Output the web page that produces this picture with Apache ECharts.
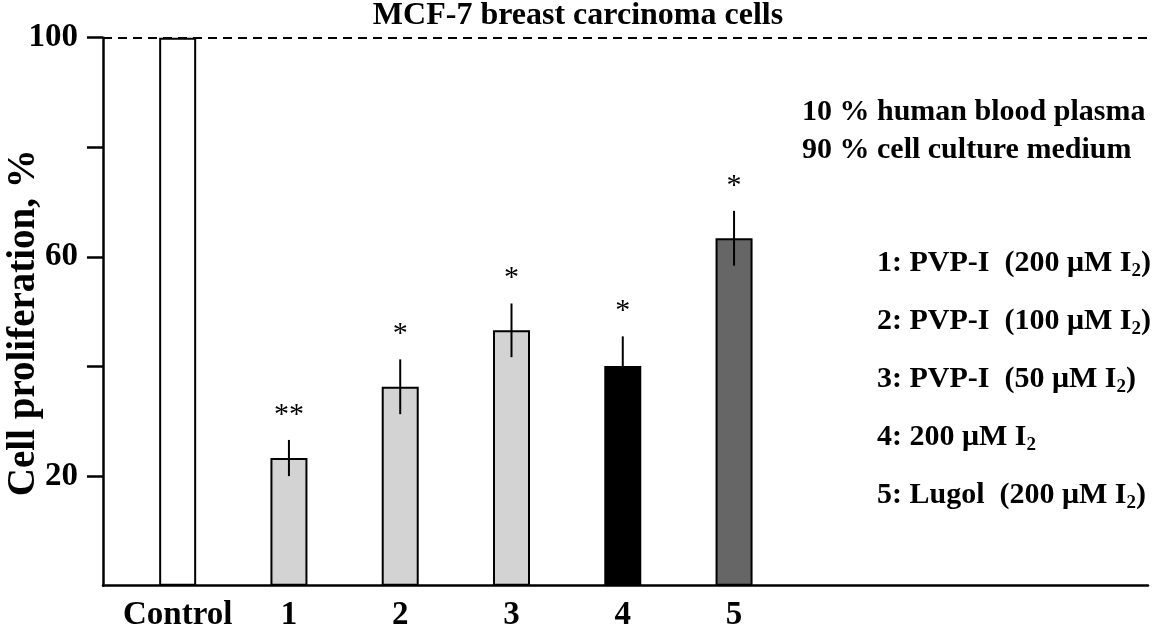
<!DOCTYPE html>
<html>
<head>
<meta charset="utf-8">
<script src="https://cdn.jsdelivr.net/npm/echarts@6/dist/echarts.min.js"></script>
<style>
html,body{margin:0;padding:0;background:#fff;}
#chart{width:1156px;height:630px;}
</style>
</head>
<body>
<div id="chart"></div>
<script>
// ---- data ----
const categories = ['Control', '1', '2', '3', '4', '5'];
const values = [100, 23.3, 36.3, 46.6, 40.1, 63.4];
const errors = [0, 3.3, 5.0, 4.9, 5.4, 5.0];
const significance = ['', '**', '*', '*', '*', '*'];
const yTickValues = [20, 40, 60, 80, 100];
const yTickLabels = [20, 60, 100];
const referenceLevel = 100;
const titleText = 'MCF-7 breast carcinoma cells';
const yAxisTitle = 'Cell proliferation, %';
const mediumNotes = ['10 % human blood plasma', '90 % cell culture medium'];
const treatmentKeys = [
  ['1: PVP-I  (200 μM I', '2', ')'],
  ['2: PVP-I  (100 μM I', '2', ')'],
  ['3: PVP-I  (50 μM I', '2', ')'],
  ['4: 200 μM I', '2', ''],
  ['5: Lugol  (200 μM I', '2', ')']
];

// ---- styles ----
const barFills = ['#ffffff', '#d3d3d3', '#d3d3d3', '#d3d3d3', '#000000', '#666666'];
const FONT = '"Liberation Serif", "Times New Roman", serif';

const chart = echarts.init(document.getElementById('chart'));

const barData = values.map((v, i) => ({
  value: [i, v],
  itemStyle: { color: barFills[i] }
}));
const errData = values.map((v, i) => [i, v, errors[i]]);

const graphics = [];
graphics.push({
  type: 'text',
  left: 802,
  top: 93,
  style: {
    text: mediumNotes.join('\n'),
    font: 'bold 30px ' + FONT,
    lineHeight: 38,
    fill: '#000'
  }
});
treatmentKeys.forEach((k, i) => {
  graphics.push({
    type: 'text',
    left: 877,
    top: 248 + i * 58,
    style: {
      text: '{n|' + k[0] + '}{s|' + k[1] + '}' + (k[2] ? '{n|' + k[2] + '}' : ''),
      rich: {
        n: { font: 'bold 30px ' + FONT, lineHeight: 36, fill: '#000' },
        s: { font: 'bold 19px ' + FONT, lineHeight: 19, verticalAlign: 'bottom', fill: '#000' }
      }
    }
  });
});

chart.setOption({
  animation: false,
  backgroundColor: '#fff',
  title: {
    text: titleText,
    left: 'center',
    top: 0,
    padding: 0,
    textStyle: { fontFamily: FONT, fontWeight: 'bold', fontSize: 32, color: '#000' }
  },
  grid: { left: 103, right: 8, top: 37.7, bottom: 44.3, outerBoundsMode: 'none', containLabel: false },
  xAxis: {
    type: 'value',
    min: -0.671,
    max: 8.72,
    splitNumber: 9,
    axisLine: { show: true, onZero: false, lineStyle: { color: '#000', width: 2.5 } },
    axisTick: { show: false },
    splitLine: { show: false },
    axisLabel: {
      showMinLabel: false,
      showMaxLabel: false,
      margin: 13,
      fontFamily: FONT,
      fontWeight: 'bold',
      fontSize: 33,
      color: '#000',
      formatter: v => (Number.isInteger(v) && categories[v] !== undefined) ? categories[v] : ''
    }
  },
  yAxis: {
    type: 'value',
    min: 0,
    max: 100,
    interval: 20,
    name: yAxisTitle,
    nameLocation: 'middle',
    nameGap: 60,
    nameMoveOverlap: false,
    nameTextStyle: { fontFamily: FONT, fontWeight: 'bold', fontSize: 39, color: '#000', padding: [0, 22, 0, 0] },
    axisLine: { show: true, onZero: false, lineStyle: { color: '#000', width: 2.5 } },
    axisTick: { show: true, length: 16, customValues: yTickValues, lineStyle: { color: '#000', width: 2.5 } },
    splitLine: { show: false },
    axisLabel: {
      margin: 25,
      customValues: yTickLabels,
      fontFamily: FONT,
      fontWeight: 'bold',
      fontSize: 33,
      color: '#000',
      formatter: v => yTickLabels.indexOf(v) >= 0 ? String(v) : ''
    }
  },
  series: [
    {
      type: 'bar',
      data: barData,
      barWidth: 37,
      itemStyle: { borderColor: '#000', borderWidth: 2 },
      markLine: {
        silent: true,
        symbol: 'none',
        label: { show: false },
        lineStyle: { color: '#000', width: 2, type: [9, 6] },
        data: [{ yAxis: referenceLevel }]
      },
      z: 2
    },
    {
      type: 'custom',
      data: errData,
      z: 5,
      renderItem: (params, api) => {
        const i = api.value(0), v = api.value(1), e = api.value(2);
        const top = api.coord([i, v + e]);
        const bot = api.coord([i, v - e]);
        const children = [];
        if (e > 0) {
          children.push({
            type: 'line',
            shape: { x1: top[0], y1: top[1], x2: bot[0], y2: bot[1] },
            style: { stroke: '#000', lineWidth: 2 }
          });
        }
        const sig = significance[params.dataIndex];
        if (sig) {
          children.push({
            type: 'text',
            style: {
              text: sig,
              x: top[0],
              y: top[1] - 25,
              align: 'center',
              verticalAlign: 'middle',
              font: '30px ' + FONT,
              fill: '#000'
            }
          });
        }
        return { type: 'group', children };
      }
    }
  ],
  graphic: graphics
});
</script>
</body>
</html>
